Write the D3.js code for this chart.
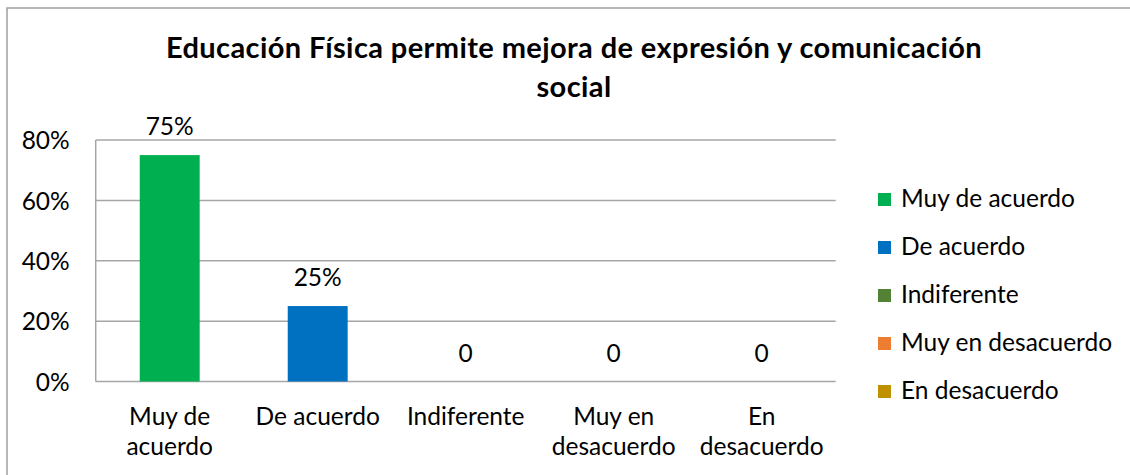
<!DOCTYPE html>
<html>
<head>
<meta charset="utf-8">
<script src="https://cdn.jsdelivr.net/npm/d3@7"></script>
<style>
  body { margin: 0; background: #fff; }
  svg { display: block; font-family: Lato, "Open Sans", sans-serif; }
</style>
</head>
<body>
<svg id="chart" width="1130" height="475"></svg>
<script>
var titleLines = ["Educación Física permite mejora de expresión y comunicación", "social"];
var categories = ["Muy de acuerdo", "De acuerdo", "Indiferente", "Muy en desacuerdo", "En desacuerdo"];
var axisLabels = [["Muy de", "acuerdo"], ["De acuerdo"], ["Indiferente"], ["Muy en", "desacuerdo"], ["En", "desacuerdo"]];
var values = [0.75, 0.25, 0, 0, 0];
var dataLabels = ["75%", "25%", "0", "0", "0"];
var colors = ["#00b050", "#0070c0", "#548235", "#ed7d31", "#bf9000"];
var yTicks = [0, 0.2, 0.4, 0.6, 0.8];

var svg = d3.select("#chart");
var gridColor = "#a6a6a6";
var fontSize = 24.5;

// chart border (runs off the right and bottom edge like the original)
svg.append("rect")
	.attr("x", 7)
	.attr("y", 8)
	.attr("width", 1200)
	.attr("height", 600)
	.attr("fill", "none")
	.attr("stroke", "#a0a0a0")
	.attr("stroke-width", 1.5);

svg.append("g").selectAll("text")
	.data(titleLines)
	.join("text")
	.attr("x", 574)
	.attr("y", function(d, i){ return 58 + i * 38.5; })
	.attr("text-anchor", "middle")
	.attr("font-size", 29)
	.attr("letter-spacing", 0.4)
	.attr("font-weight", "bold")
	.attr("fill", "#000")
	.text(function(d){ return d; });

var x = d3.scaleBand()
	.domain(categories)
	.range([95.7, 835.7])
	.paddingInner(0.595)
	.paddingOuter(0.2975);

var y = d3.scaleLinear()
	.domain([0, 0.8])
	.range([381.5, 140]);

// gridlines
svg.append("g").selectAll("line")
	.data(yTicks)
	.join("line")
	.attr("x1", x.range()[0])
	.attr("x2", x.range()[1])
	.attr("y1", function(d){ return y(d); })
	.attr("y2", function(d){ return y(d); })
	.attr("stroke", gridColor)
	.attr("stroke-width", 1.5);

svg.append("line")
	.attr("x1", x.range()[0])
	.attr("x2", x.range()[0])
	.attr("y1", y(0.8))
	.attr("y2", y(0))
	.attr("stroke", gridColor)
	.attr("stroke-width", 1.5);

var yAxis = svg.append("g")
	.attr("transform", "translate(" + x.range()[0] + ",0)")
	.call(d3.axisLeft(y).tickValues(yTicks).tickSize(0).tickPadding(26).tickFormat(d3.format(".0%")));
yAxis.select(".domain").remove();
yAxis.selectAll("text")
	.attr("font-size", fontSize)
	.attr("font-family", "Lato, sans-serif")
	.attr("fill", "#000")
	.attr("dy", "0.36em");

// bars
svg.append("g").selectAll("rect")
	.data(values)
	.join("rect")
	.attr("x", function(d, i){ return x(categories[i]); })
	.attr("width", x.bandwidth())
	.attr("y", function(d){ return y(d); })
	.attr("height", function(d){ return y(0) - y(d); })
	.attr("fill", function(d, i){ return colors[i]; });

svg.append("g").selectAll("text")
	.data(values)
	.join("text")
	.attr("x", function(d, i){ return x(categories[i]) + x.bandwidth() / 2; })
	.attr("y", function(d){ return y(d) - 20; })
	.attr("text-anchor", "middle")
	.attr("font-size", fontSize)
	.attr("fill", "#000")
	.text(function(d, i){ return dataLabels[i]; });

// category labels, wrapped like the original
var xl = svg.append("g").selectAll("text")
	.data(axisLabels)
	.join("text")
	.attr("text-anchor", "middle")
	.attr("font-size", fontSize)
	.attr("fill", "#000");
xl.selectAll("tspan")
	.data(function(d, i){ return d.map(function(t){ return {t: t, c: categories[i]}; }); })
	.join("tspan")
	.attr("x", function(d){ return x(d.c) + x.bandwidth() / 2; })
	.attr("y", function(d, j){ return 425 + j * 30; })
	.text(function(d){ return d.t; });

// legend
var legend = svg.append("g").selectAll("g")
	.data(categories)
	.join("g")
	.attr("transform", function(d, i){ return "translate(878," + (199.5 + i * 48) + ")"; });
legend.append("rect")
	.attr("x", 0)
	.attr("y", -6.5)
	.attr("width", 13)
	.attr("height", 13)
	.attr("fill", function(d, i){ return colors[i]; });
legend.append("text")
	.attr("x", 23)
	.attr("y", 7.5)
	.attr("font-size", fontSize)
	.attr("fill", "#000")
	.text(function(d){ return d; });
</script>
</body>
</html>
